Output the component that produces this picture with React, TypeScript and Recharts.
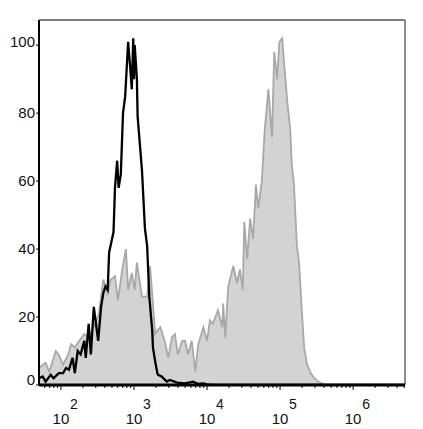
import React from "react";
import { ComposedChart, Area, Line, XAxis, YAxis, ReferenceLine } from "recharts";

// log10 of fluorescence intensity, and % of max count
const controlLog = [1.70, 1.75, 1.79, 1.86, 1.90, 1.97, 2.03, 2.07, 2.11, 2.16, 2.19, 2.23, 2.27, 2.32, 2.34, 2.38, 2.41, 2.45, 2.51, 2.55, 2.58, 2.61, 2.64, 2.66, 2.70, 2.72, 2.74, 2.77, 2.79, 2.82, 2.85, 2.88, 2.92, 2.95, 2.97, 2.99, 3.00, 3.01, 3.04, 3.05, 3.11, 3.15, 3.18, 3.21, 3.25, 3.26, 3.29, 3.32, 3.33, 3.38, 3.40, 3.45, 3.49, 3.59, 3.70, 3.81, 3.88, 3.95, 4.00, 4.10, 6.71];
const controlCount = [2, 2.5, 1, 3, 2, 3.5, 3.5, 5, 4.5, 8, 3.5, 10, 9, 13, 8, 18, 9, 23, 13, 23, 27, 29, 28, 39, 43, 45, 58, 66, 58, 62, 80, 85, 101, 93, 87, 102, 90, 100, 90, 79, 63, 46, 41, 26, 16, 11, 7, 3.5, 3, 2.5, 2, 1, 1.5, 0.7, 0.5, 1, 0.3, 0.5, 0.2, 0, 0];

const stainedLog = [1.70, 1.79, 1.84, 1.93, 1.97, 2.03, 2.10, 2.14, 2.19, 2.25, 2.32, 2.38, 2.45, 2.52, 2.58, 2.64, 2.68, 2.74, 2.78, 2.84, 2.89, 2.92, 2.97, 3.01, 3.04, 3.11, 3.18, 3.22, 3.26, 3.29, 3.32, 3.36, 3.42, 3.47, 3.52, 3.56, 3.60, 3.66, 3.70, 3.74, 3.79, 3.84, 3.88, 3.95, 4.00, 4.04, 4.08, 4.15, 4.21, 4.22, 4.25, 4.29, 4.36, 4.41, 4.45, 4.49, 4.51, 4.55, 4.59, 4.63, 4.67, 4.70, 4.75, 4.79, 4.84, 4.89, 4.92, 4.96, 4.99, 5.03, 5.05, 5.10, 5.14, 5.16, 5.19, 5.23, 5.26, 5.30, 5.33, 5.37, 5.42, 5.47, 5.52, 5.62, 6.71];
const stainedCount = [5, 6.5, 4, 10, 9, 6, 9, 12, 11, 13, 15, 14, 17, 21, 31, 27, 31, 32, 25, 34, 40, 28, 33, 28, 36, 26, 26, 35, 24, 15, 16, 17, 13, 8, 14, 15, 9, 13, 13, 9, 13, 4, 12, 17, 13, 19, 18, 22, 17, 24, 14, 29, 35, 30, 34, 28, 48, 37, 49, 43, 59, 52, 60, 75, 87, 73, 98, 90, 101, 102, 96, 83, 75, 65, 59, 41, 36, 21, 11, 6, 3.5, 2, 1, 0, 0];

const decades = [2, 3, 4, 5, 6];
const yTicks = [0, 20, 40, 60, 80, 100];

const X_MIN = 1.7;
const X_MAX = 6.71;
const Y_MAX = 107.4;

const control = controlLog.map((x, i) => ({ x, y: controlCount[i] }));
const stained = stainedLog.map((x, i) => ({ x, y: stainedCount[i] }));

// major + minor log ticks
const xTicks: number[] = [];
for (let n = 1; n <= 6; n++) {
  for (let k = 1; k <= 9; k++) {
    const v = n + Math.log10(k);
    if (v >= X_MIN && v <= X_MAX) xTicks.push(v);
  }
}

const font = "'Liberation Sans', Arial, sans-serif";

function LogTick({ x, y, payload }: any) {
  const v = payload.value as number;
  const major = decades.includes(v);
  return (
    <g>
      <line x1={x} x2={x} y1={y} y2={y + (major ? 5 : 3)} stroke="#000" strokeWidth={1} />
      {major && (
        <>
          <text x={x} y={y + 39} textAnchor="middle" fontSize={15} fontFamily={font} fill="#111">10</text>
          <text x={x + 9} y={y + 24} fontSize={14} fontFamily={font} fill="#111">{v}</text>
        </>
      )}
    </g>
  );
}

const yShift: Record<number, number> = { 0: -5, 100: -3 };

function CountTick({ x, y, payload }: any) {
  const v = payload.value as number;
  return (
    <g>
      <line x1={x - 3} x2={x} y1={y} y2={y} stroke="#000" strokeWidth={1} />
      <text x={x - 4} y={y + 5 + (yShift[v] ?? 0)} textAnchor="end" fontSize={15} fontFamily={font} fill="#111">{v}</text>
    </g>
  );
}

export default function App() {
  return (
    <div style={{ position: "absolute", left: 0, top: 0, width: 423, height: 429, background: "#fff" }}>
      <ComposedChart width={423} height={429} margin={{ top: 20, right: 18, bottom: 0, left: 0 }}>
        <XAxis
          type="number"
          dataKey="x"
          domain={[X_MIN, X_MAX]}
          ticks={xTicks}
          interval={0}
          height={44}
          tickSize={0}
          tickMargin={0}
          tickLine={false}
          axisLine={{ stroke: "#000", strokeWidth: 3 }}
          tick={<LogTick />}
          allowDataOverflow
        />
        <YAxis
          type="number"
          domain={[0, Y_MAX]}
          ticks={yTicks}
          interval={0}
          width={39}
          tickSize={0}
          tickMargin={0}
          tickLine={false}
          axisLine={{ stroke: "#000", strokeWidth: 2 }}
          tick={<CountTick />}
          allowDataOverflow
        />
        <ReferenceLine y={Y_MAX} stroke="#555" strokeWidth={1.5} />
        <ReferenceLine x={X_MAX} stroke="#666" strokeWidth={1.5} />
        <Area
          data={stained}
          dataKey="y"
          type="linear"
          fill="#d3d3d3"
          fillOpacity={1}
          stroke="#a8a8a8"
          strokeWidth={1.8}
          isAnimationActive={false}
        />
        <Line
          data={control}
          dataKey="y"
          type="linear"
          stroke="#000"
          strokeWidth={2.3}
          dot={false}
          isAnimationActive={false}
        />
      </ComposedChart>
    </div>
  );
}
